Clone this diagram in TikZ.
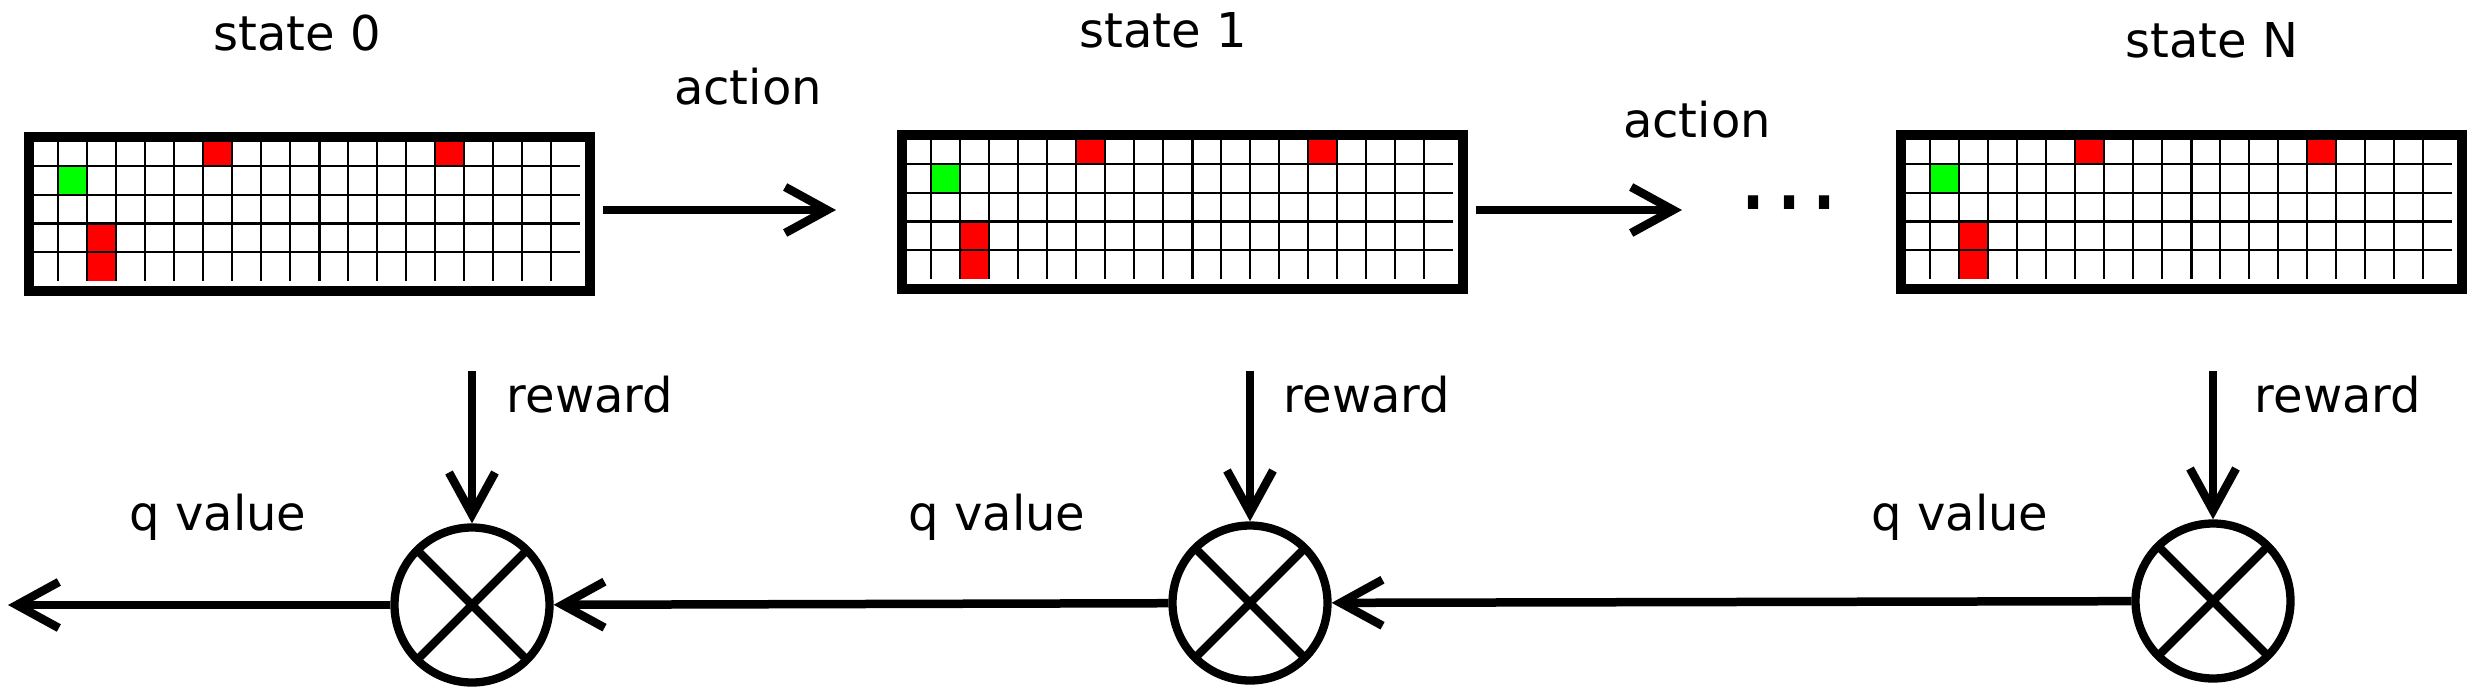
\documentclass[tikz,border=0pt]{standalone}
\usepackage{fontspec}
\setmainfont{DejaVu Sans}
\usetikzlibrary{arrows.meta,calc}
\definecolor{cellred}{RGB}{255,0,0}
\definecolor{cellgreen}{RGB}{0,255,0}
\tikzset{
  lbl/.style={font=\fontsize{48}{58}\selectfont, anchor=base, inner sep=0pt},
  gridbox/.style={draw, line width=10pt, minimum width=561pt, minimum height=154pt, inner sep=0pt, anchor=north west},
  gline/.style={line width=2.2pt},
  mult/.style={circle, draw, line width=8.3pt, minimum size=155pt, inner sep=0pt,
    path picture={\draw[line width=8.3pt] (path picture bounding box.north west) -- (path picture bounding box.south east)
      (path picture bounding box.north east) -- (path picture bounding box.south west);}},
  flow/.style={line width=8.5pt, -{Straight Barb[length=42pt,width=46pt]}}
}
\newcommand\qgrid[3]{%
  \begin{scope}[shift={(#2,#3)}]
    \fill[cellred] (174,0) rectangle (203,28.8);
    \fill[cellred] (406,0) rectangle (435,28.8);
    \fill[cellgreen] (29,28.8) rectangle (58,57.6);
    \fill[cellred] (58,86.4) rectangle (87,144);
    \foreach \i in {1,...,18} \draw[gline] (\i*29,0) -- (\i*29,144);
    \draw[gline, line width=3pt] (290,0) -- (290,144);
    \foreach \j in {1,...,4} \draw[gline] (0,\j*28.8) -- (551,\j*28.8);
  \end{scope}
  \node[gridbox] (#1) at (#2-5,#3-5) {};}
\begin{document}
\begin{tikzpicture}[x=1pt,y=-1pt]
\useasboundingbox (0,0) rectangle (2469,689);
% state grids
\qgrid{s0}{29}{137}
\qgrid{s1}{902}{135}
\qgrid{sN}{1901}{135}
% labels above
\node[lbl] (t0) at (297,50) {state 0};
\node[lbl] (t1) at (1163,47) {state 1};
\node[lbl] (tN) at (2212,57) {state N};
\node[lbl] (a1) at (748,104) {action};
\node[lbl] (a2) at (1697,137) {action};
\node[lbl, font=\fontsize{58}{66}\selectfont\bfseries, yscale=1.25] (dots) at (1789,209) {.\kern13pt.\kern13pt.};
% action arrows
\draw[flow, shorten <=8pt, shorten >=61pt] ([yshift=4pt]s0.east) -- ([yshift=2pt]s1.west);
\draw[flow, shorten <=8pt] ([yshift=2pt]s1.east) -- ([yshift=2pt]s1.east -| 1682,0);
% multipliers
\node[mult] (c1) at (472,605) {};
\node[mult] (c2) at (1250,603) {};
\node[mult] (c3) at (2213,601) {};
% reward arrows
\coordinate (r1) at (472,371);
\coordinate (r2) at (1250,371);
\coordinate (r3) at (2213,371);
\draw[flow] (r1) -- (c1.north);
\draw[flow] (r2) -- (c2.north);
\draw[flow] (r3) -- (c3.north);
\node[lbl] (w1) at (590,412) {reward};
\node[lbl] (w2) at (1367,412) {reward};
\node[lbl] (w3) at (2338,412) {reward};
% q value arrows
\coordinate (qout) at (8,605);
\draw[flow] (c3) -- (c2);
\draw[flow] (c2) -- (c1);
\draw[flow] (c1.west) -- (qout);
\node[lbl] (q1) at (218,530) {q value};
\node[lbl] (q2) at (997,530) {q value};
\node[lbl] (q3) at (1960,530) {q value};
\end{tikzpicture}
\end{document}
